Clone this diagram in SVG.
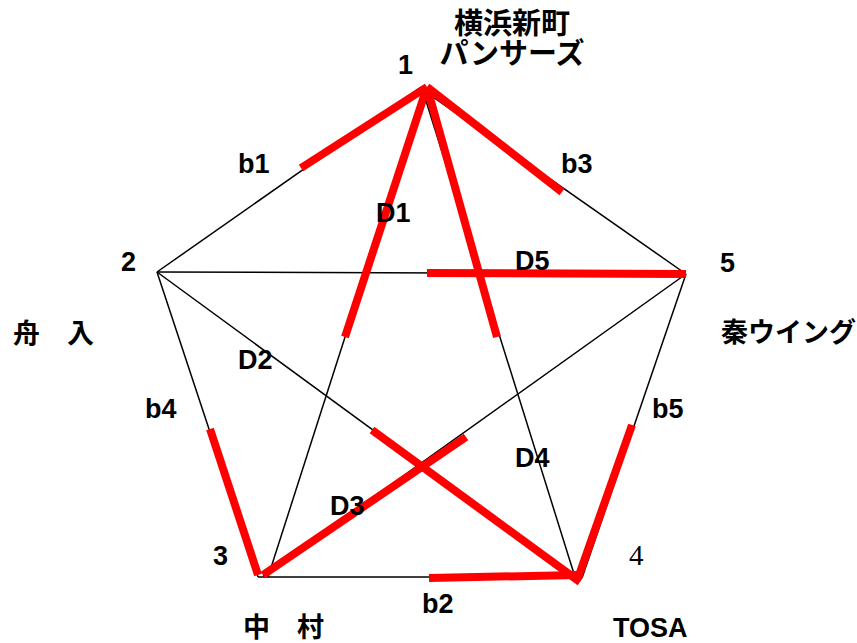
<svg xmlns="http://www.w3.org/2000/svg" width="857" height="643" viewBox="0 0 857 643">
<style>
.bk{stroke:#000;stroke-width:1.5;fill:none}
.rd{stroke:#ff0000;stroke-width:8;fill:none;stroke-linecap:butt}
.t{font-family:"Liberation Sans",Arial,sans-serif;font-weight:bold;font-size:27px;fill:#000}
.n4{font-family:"Liberation Serif","Times New Roman",serif;font-size:29px;fill:#000}
.j{font-family:"Liberation Sans","Noto Sans CJK JP",sans-serif;font-weight:bold;font-size:27px;fill:#000}
.h{font-family:"Liberation Sans","Noto Sans CJK JP",sans-serif;font-weight:bold;font-size:29px;fill:#000}
</style>
<rect width="857" height="643" fill="#fff"/>
<g id="connectors">
<line class="bk" x1="421" y1="87" x2="157" y2="272"/>
<line class="bk" x1="420" y1="88" x2="686" y2="274"/>
<line class="bk" x1="425" y1="88" x2="268" y2="577"/>
<line class="bk" x1="422" y1="88" x2="575" y2="577"/>
<line class="bk" x1="157" y1="272" x2="686" y2="274"/>
<line class="bk" x1="157" y1="272" x2="578" y2="580"/>
<line class="bk" x1="686" y1="274" x2="263" y2="576"/>
<line class="bk" x1="157" y1="272" x2="258" y2="577"/>
<line class="bk" x1="258" y1="577" x2="580" y2="577"/>
<line class="bk" x1="582" y1="578" x2="686" y2="274"/>
<line class="rd" x1="301" y1="168" x2="427" y2="87"/>
<line class="rd" x1="427" y1="87" x2="562" y2="192"/>
<line class="rd" x1="427" y1="87" x2="345" y2="337"/>
<line class="rd" x1="427" y1="87" x2="497" y2="337"/>
<line class="rd" x1="427" y1="273" x2="686" y2="274"/>
<line class="rd" x1="372" y1="430" x2="580" y2="582"/>
<line class="rd" x1="466" y1="437" x2="263" y2="575"/>
<line class="rd" x1="210" y1="429" x2="258" y2="575"/>
<line class="rd" x1="429" y1="578" x2="578" y2="575"/>
<line class="rd" x1="578" y1="578" x2="632" y2="425"/>
</g>
<g id="edge-labels">
<text class="t" x="238" y="173">b1</text>
<text class="t" x="561" y="173">b3</text>
<text class="t" x="376" y="222">D1</text>
<text class="t" x="515" y="270">D5</text>
<text class="t" x="238" y="369">D2</text>
<text class="t" x="145" y="418">b4</text>
<text class="t" x="652" y="418">b5</text>
<text class="t" x="515" y="467">D4</text>
<text class="t" x="330" y="515">D3</text>
<text class="t" x="422" y="613">b2</text>
</g>
<g id="node1">
<text class="t" x="398" y="74">1</text>
<text class="h" x="512" y="34" text-anchor="middle">横浜新町</text>
<text class="h" x="512" y="64" text-anchor="middle">パンサーズ</text>
</g>
<g id="node2">
<text class="t" x="121" y="271">2</text>
<text class="j" x="13" y="343">舟　入</text>
</g>
<g id="node3">
<text class="t" x="213" y="565">3</text>
<text class="j" x="243" y="637">中　村</text>
</g>
<g id="node4">
<text class="n4" x="629" y="565">4</text>
<text class="t" x="613" y="637">TOSA</text>
</g>
<g id="node5">
<text class="t" x="720" y="272">5</text>
<text class="j" x="721" y="342">秦ウイング</text>
</g>
</svg>
